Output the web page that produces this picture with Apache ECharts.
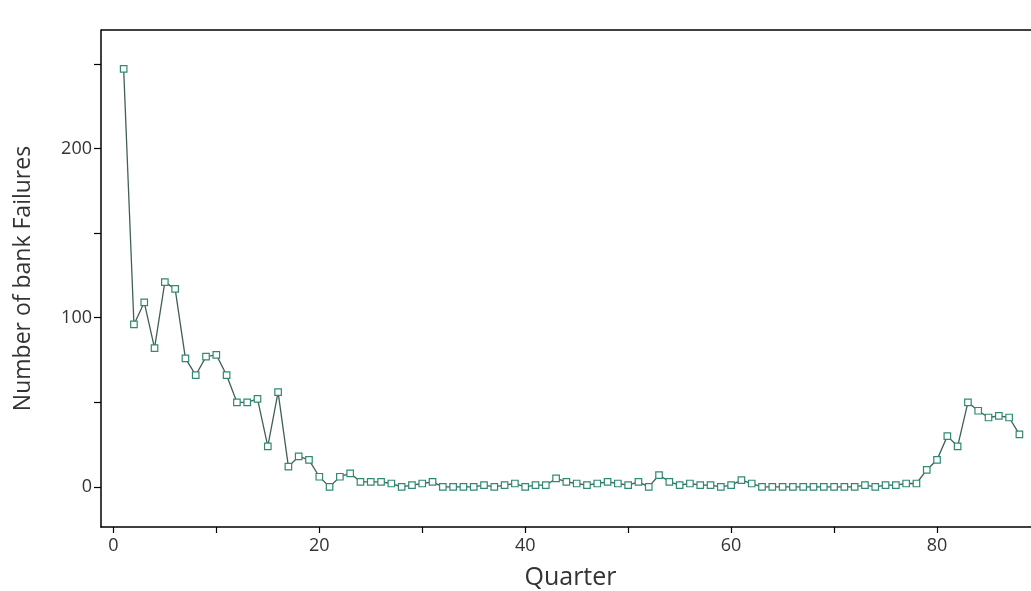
<!DOCTYPE html>
<html>
<head>
<meta charset="utf-8">
<style>
  html, body { margin: 0; padding: 0; background: #fff; }
  #chart { width: 1031px; height: 591px; }
</style>
<script src="https://cdn.jsdelivr.net/npm/echarts@6/dist/echarts.min.js"></script>
</head>
<body>
<div id="chart"></div>
<script>
// Quarterly bank failures
const quarters = [
  1, 2, 3, 4, 5, 6, 7, 8, 9, 10, 11, 12, 13, 14, 15, 16, 17, 18, 19, 20,
  21, 22, 23, 24, 25, 26, 27, 28, 29, 30, 31, 32, 33, 34, 35, 36, 37, 38, 39, 40,
  41, 42, 43, 44, 45, 46, 47, 48, 49, 50, 51, 52, 53, 54, 55, 56, 57, 58, 59, 60,
  61, 62, 63, 64, 65, 66, 67, 68, 69, 70, 71, 72, 73, 74, 75, 76, 77, 78, 79, 80,
  81, 82, 83, 84, 85, 86, 87, 88
];
const failures = [
  247, 96, 109, 82, 121, 117, 76, 66, 77, 78, 66, 50, 50, 52, 24, 56, 12, 18, 16, 6,
  0, 6, 8, 3, 3, 3, 2, 0, 1, 2, 3, 0, 0, 0, 0, 1, 0, 1, 2, 0,
  1, 1, 5, 3, 2, 1, 2, 3, 2, 1, 3, 0, 7, 3, 1, 2, 1, 1, 0, 1,
  4, 2, 0, 0, 0, 0, 0, 0, 0, 0, 0, 0, 1, 0, 1, 1, 2, 2, 10, 16,
  30, 24, 50, 45, 41, 42, 41, 31
];
const xTickValues = [0, 10, 20, 30, 40, 50, 60, 70, 80];
const xLabelValues = [0, 20, 40, 60, 80];
const yTickValues = [0, 50, 100, 150, 200, 250];
const yLabelValues = [0, 100, 200];

const points = quarters.map((q, i) => [q, failures[i]]);

const textFont = '"Open Sans", "Noto Sans", sans-serif';
const axisLineStyle = { color: '#000', width: 1.5 };

const chart = echarts.init(document.getElementById('chart'), null, { renderer: 'canvas' });
chart.setOption({
  animation: false,
  backgroundColor: '#fff',
  grid: { left: 101, top: 30, bottom: 64, right: -9, outerBoundsMode: 'none', containLabel: false, show: false },
  xAxis: {
    type: 'value',
    min: -1.2,
    max: 90,
    name: 'Quarter',
    nameLocation: 'middle',
    nameGap: 38,
    nameTextStyle: { fontFamily: textFont, fontSize: 25, color: '#333' },
    axisLine: { show: true, onZero: false, lineStyle: axisLineStyle },
    axisTick: { show: true, length: 6, customValues: xTickValues, lineStyle: { color: '#000', width: 1.2 } },
    axisLabel: { customValues: xLabelValues, fontFamily: textFont, fontSize: 18, color: '#333', margin: 10 },
    splitLine: { show: false }
  },
  yAxis: {
    type: 'value',
    min: -23.7,
    max: 270,
    name: 'Number of bank Failures',
    nameLocation: 'middle',
    nameRotate: 90,
    nameGap: 66,
    nameTextStyle: { fontFamily: textFont, fontSize: 23, color: '#333' },
    axisLine: { show: true, onZero: false, lineStyle: axisLineStyle },
    axisTick: { show: true, length: 7, customValues: yTickValues, lineStyle: { color: '#000', width: 1.2 } },
    axisLabel: { customValues: yLabelValues, fontFamily: textFont, fontSize: 18, color: '#333', margin: 9 },
    splitLine: { show: false }
  },
  series: [{
    type: 'line',
    data: points,
    symbol: 'rect',
    symbolSize: 6.5,
    showSymbol: true,
    lineStyle: { color: '#3f5f57', width: 1.3 },
    itemStyle: { color: '#fff', borderColor: '#2e8a72', borderWidth: 1.2 },
    z: 3
  }]
});

// top edge of the plot frame
const topY = chart.convertToPixel({ gridIndex: 0 }, [0, 270])[1];
const leftX = chart.convertToPixel({ gridIndex: 0 }, [-1.2, 0])[0];
chart.setOption({
  graphic: [{
    type: 'line',
    shape: { x1: leftX, y1: topY, x2: 1031, y2: topY },
    style: { stroke: '#000', lineWidth: 1.5 },
    z: 10
  }]
});
</script>
</body>
</html>
